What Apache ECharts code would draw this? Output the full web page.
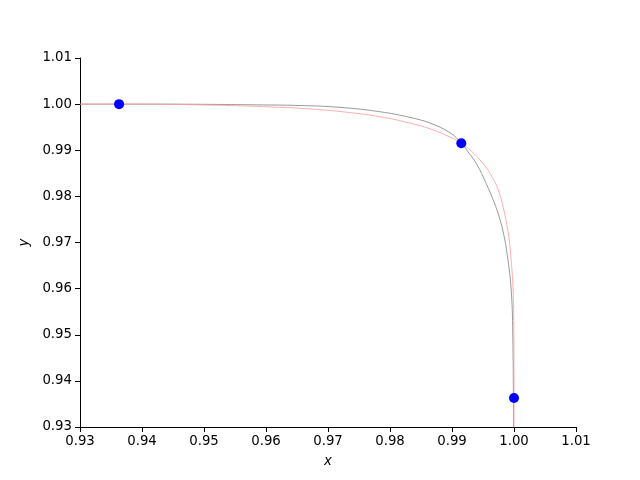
<!DOCTYPE html>
<html>
<head>
<meta charset="utf-8">
<script src="https://cdn.jsdelivr.net/npm/echarts@6/dist/echarts.min.js"></script>
<style>html,body{margin:0;padding:0;background:#fff}#c{width:640px;height:480px}</style>
</head>
<body>
<div id="c"></div>
<script>
// Gray curve (x, y)
const grayX = [0.93000, 0.94130, 0.94935, 0.95742, 0.96548, 0.97194, 0.97839, 0.98323, 0.98645, 0.98968, 0.99156, 0.99237, 0.99398, 0.99550, 0.99680, 0.99760, 0.99818, 0.99880, 0.99955, 0.99982, 0.99992];
const grayY = [1.00000, 1.00000, 0.99996, 0.99986, 0.99970, 0.99930, 0.99835, 0.99712, 0.99590, 0.99380, 0.99151, 0.99005, 0.98700, 0.98283, 0.97870, 0.97560, 0.97271, 0.96837, 0.95970, 0.94886, 0.93000];
// Red curve (x, y)
const redX = [0.93000, 0.94130, 0.95205, 0.95742, 0.96274, 0.96548, 0.97194, 0.97839, 0.98323, 0.98645, 0.98968, 0.99156, 0.99263, 0.99452, 0.99613, 0.99747, 0.99835, 0.99900, 0.99940, 0.99985, 0.99998, 1.00000];
const redY = [1.00000, 0.99998, 0.99976, 0.99955, 0.99928, 0.99910, 0.99840, 0.99727, 0.99588, 0.99465, 0.99285, 0.99151, 0.99042, 0.98790, 0.98500, 0.98138, 0.97705, 0.97271, 0.96837, 0.95970, 0.94886, 0.93000];
// Blue points
const ptsX = [0.9363, 0.9915, 1.0000];
const ptsY = [1.0000, 0.9915, 0.9363];

const zip = (a, b) => a.map((v, i) => [v, b[i]]);
const chart = echarts.init(document.getElementById('c'), null, {renderer: 'canvas'});
const axisCommon = {
  type: 'value', min: 0.93, max: 1.01, interval: 0.01,
  splitLine: {show: false},
  axisLine: {show: true, onZero: false, lineStyle: {color: '#000', width: 1}},
  axisTick: {show: true, inside: false, length: 5, lineStyle: {color: '#000', width: 1}},
  axisLabel: {color: '#000', fontFamily: 'DejaVu Sans', fontSize: 13.3, margin: 8, formatter: v => v.toFixed(2)},
  nameLocation: 'middle',
  nameTextStyle: {color: '#000', fontFamily: 'DejaVu Sans', fontStyle: 'italic', fontSize: 13.3}
};
chart.setOption({
  animation: false,
  backgroundColor: '#fff',
  grid: {left: 80, top: 58, width: 496, height: 369, containLabel: false},
  xAxis: Object.assign({}, axisCommon, {name: 'x', nameGap: 28}),
  yAxis: Object.assign({}, axisCommon, {name: 'y', nameGap: 48}),
  series: [
    {type: 'line', data: zip(grayX, grayY), showSymbol: false, smooth: 0.4,
     lineStyle: {color: '#808080', width: 0.8}, z: 2},
    {type: 'line', data: zip(redX, redY), showSymbol: false, smooth: 0.4,
     lineStyle: {color: '#ff9a9a', width: 0.8}, z: 3},
    {type: 'scatter', data: zip(ptsX, ptsY), symbol: 'circle', symbolSize: 10,
     itemStyle: {color: '#0000ff', opacity: 1}, z: 4}
  ]
});
</script>
</body>
</html>
